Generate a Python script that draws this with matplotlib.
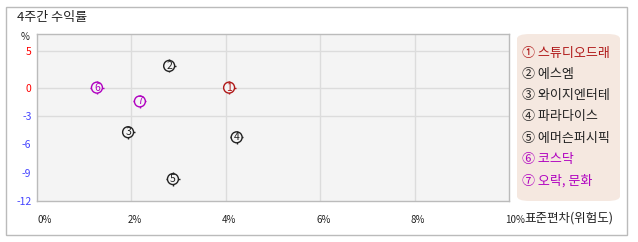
import numpy as np
import matplotlib
matplotlib.use('Agg')
from matplotlib import pyplot as plt
from matplotlib.patches import Rectangle, FancyBboxPatch

plt.rcParams['font.family'] = ['Noto Sans CJK KR', 'DejaVu Sans']

# data
names = ['스튜디오드래', '에스엠', '와이지엔터테', '파라다이스', '에머슨퍼시픽', '코스닥', '오락, 문화']
risk = [4.07, 2.80, 1.93, 4.23, 2.88, 1.27, 2.18]        # 표준편차 (%)
ret = [0.0, 2.95, -4.72, -5.26, -9.68, 0.0, -1.46]       # 4주간 수익률 (%)
colors = ['#b01818', '#222222', '#222222', '#222222', '#222222', '#b000c0', '#b000c0']
circled = ['①', '②', '③', '④', '⑤', '⑥', '⑦']
xticks = [0, 2, 4, 6, 8, 10]
xticklabels = ['0%', '2%', '4%', '6%', '8%', '10%']
yticks = [5, 0, -3, -6, -9, -12]

W, H = 638, 242
fig = plt.figure(figsize=(W / 100, H / 100), dpi=100)

# outer frame
fig.patches.append(Rectangle((6 / W, 1 - 235 / H), 621 / W, 228 / H, transform=fig.transFigure,
                             fill=False, edgecolor='#bbbbbb', linewidth=1))
fig.text(17 / W, 1 - 18 / H, '4주간 수익률', fontsize=9.4, color='#222222', va='center')
fig.text(25 / W, 1 - 37 / H, '%', fontsize=7, color='#222222', va='center', ha='center')

ax = fig.add_axes([37 / W, 1 - 201 / H, (509 - 37) / W, (201 - 34) / H])
ax.set_facecolor('#f4f4f4')

# positive side of the y axis is compressed in the original
k = 7.32 / 9.39
fwd = lambda y: np.where(y > 0, y * k, y)
inv = lambda y: np.where(y > 0, y / k, y)
ax.set_yscale('function', functions=(fwd, inv))
ax.set_xlim(0, 10)
ax.set_ylim(-12, 7.28)

for s in ax.spines.values():
    s.set_color('#bbbbbb')
    s.set_linewidth(1)

for x in xticks[1:-1]:
    ax.axvline(x, color='#dcdcdc', linewidth=1, zorder=0)
for y in [5, 0, -3]:
    ax.axhline(y, color='#dcdcdc', linewidth=1, zorder=0)

ax.set_xticks(xticks)
ax.set_xticklabels(xticklabels, fontsize=7, color='#222222', ha='left')
ax.set_yticks(yticks)
ax.set_yticklabels([str(v) for v in yticks], fontsize=7.5)
for lbl, v in zip(ax.get_yticklabels(), yticks):
    lbl.set_color('#ff0000' if v >= 0 else '#4444ff')
ax.tick_params(length=0, pad=4)
ax.tick_params(axis='x', pad=10)
offset = matplotlib.transforms.ScaledTranslation(-4 / 100, 0, fig.dpi_scale_trans)
for lbl in ax.get_xticklabels()[1:]:
    lbl.set_transform(lbl.get_transform() + offset)
fig.text(524 / W, 1 - 218 / H, '표준편차(위험도)', fontsize=9, color='#222222', va='center')

ax.scatter(risk, ret, marker='+', s=90, c=colors, linewidths=1, zorder=3)
ax.scatter(risk, ret, marker='o', s=62, facecolors='#f4f4f4', edgecolors=colors, linewidths=1, zorder=4)
for i in range(len(names)):
    ax.text(risk[i], ret[i], str(i + 1), fontsize=7.5, color=colors[i], ha='center',
            va='center', zorder=5)

# legend box
fig.patches.append(FancyBboxPatch((517 / W, 1 - 201 / H), 103 / W, 167 / H, transform=fig.transFigure,
                                  boxstyle='round,pad=0,rounding_size=0.02', facecolor='#f5e8e0',
                                  edgecolor='none'))
for i, n in enumerate(names):
    fig.text(522 / W, 1 - (53 + 21.3 * i) / H, circled[i] + ' ' + n, fontsize=9.4,
             color=colors[i], va='center')

fig.savefig('out.png', dpi=100, facecolor='white')
